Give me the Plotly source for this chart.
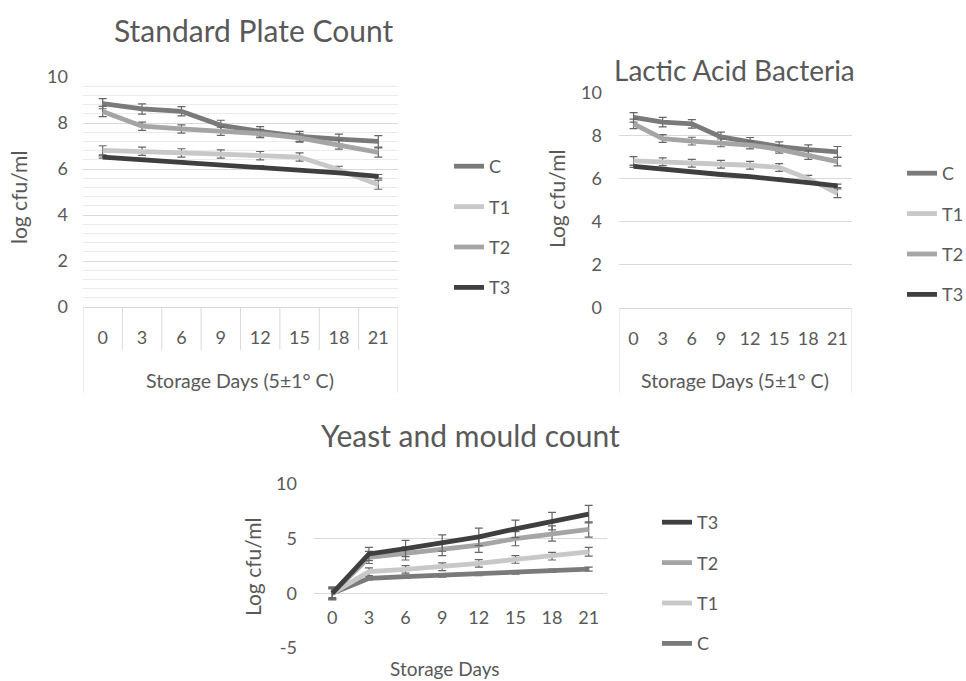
import plotly.graph_objects as go

# ---------------- data ----------------
days = ["0", "3", "6", "9", "12", "15", "18", "21"]
series_names = ["C", "T1", "T2", "T3"]

# Standard Plate Count (log cfu/ml)
spc_C = [8.84, 8.61, 8.51, 7.90, 7.64, 7.42, 7.30, 7.20]
spc_T1 = [6.81, 6.77, 6.70, 6.65, 6.58, 6.52, 5.97, 5.32]
spc_T2 = [8.50, 7.86, 7.74, 7.64, 7.54, 7.35, 7.06, 6.72]
spc_T3 = [6.52, 6.41, 6.29, 6.19, 6.09, 5.97, 5.83, 5.68]
spc_C_err = [0.22, 0.22, 0.20, 0.22, 0.20, 0.22, 0.22, 0.25]
spc_T1_err = [0.20, 0.18, 0.18, 0.18, 0.18, 0.18, 0.15, 0.20]
spc_T2_err = [0.22, 0.18, 0.18, 0.18, 0.18, 0.18, 0.20, 0.20]
spc_T3_err = [0.05, 0.05, 0.05, 0.05, 0.05, 0.05, 0.05, 0.08]

# Lactic Acid Bacteria (log cfu/ml)
lab_C = [8.85, 8.63, 8.55, 7.95, 7.72, 7.50, 7.36, 7.25]
lab_T1 = [6.83, 6.79, 6.72, 6.68, 6.63, 6.53, 6.01, 5.33]
lab_T2 = [8.55, 7.87, 7.75, 7.67, 7.57, 7.37, 7.10, 6.80]
lab_T3 = [6.58, 6.44, 6.33, 6.20, 6.10, 5.98, 5.82, 5.67]
lab_C_err = [0.22, 0.22, 0.20, 0.22, 0.20, 0.22, 0.22, 0.25]
lab_T1_err = [0.20, 0.18, 0.18, 0.18, 0.18, 0.18, 0.15, 0.20]
lab_T2_err = [0.22, 0.18, 0.18, 0.18, 0.18, 0.18, 0.20, 0.20]
lab_T3_err = [0.05, 0.05, 0.05, 0.05, 0.05, 0.05, 0.05, 0.08]

# Yeast and mould count (log cfu/ml)
ym_C = [0.00, 1.37, 1.52, 1.64, 1.76, 1.91, 2.07, 2.22]
ym_T1 = [0.00, 1.98, 2.19, 2.43, 2.74, 3.10, 3.40, 3.80]
ym_T2 = [0.00, 3.28, 3.65, 4.04, 4.40, 5.00, 5.47, 5.84]
ym_T3 = [0.00, 3.60, 4.10, 4.60, 5.17, 5.90, 6.60, 7.25]
ym_C_err = [0.60, 0.15, 0.15, 0.15, 0.15, 0.15, 0.15, 0.18]
ym_T1_err = [0.50, 0.35, 0.35, 0.35, 0.35, 0.35, 0.35, 0.40]
ym_T2_err = [0.50, 0.55, 0.60, 0.60, 0.65, 0.65, 0.70, 0.70]
ym_T3_err = [0.40, 0.60, 0.75, 0.75, 0.80, 0.80, 0.80, 0.80]

ym_yticks = [-5, 0, 5, 10]
ym_yticktext = ["-5", "0", "5", "10"]

# ---------------- style ----------------
W, H = 966, 681
FONT = "Lato"
TXT = "#595959"
GRID = "#d9d9d9"
MINOR = "#ebebeb"
ERR = "#666666"
colors = {"C": "#7a7a7a", "T1": "#c8c8c8", "T2": "#a5a5a5", "T3": "#3f3f3f"}
LW = 4.8

def px_x(p):
    return p / W

def px_y(p):
    return 1 - p / H

xidx = list(range(len(days)))

fig = go.Figure()

def add_series(vals, errs, name, xa, ya, legend, rank):
    fig.add_trace(go.Scatter(
        x=xidx, y=vals, name=name, mode="lines",
        line=dict(color=colors[name], width=LW),
        error_y=dict(type="data", array=errs, visible=True, color=ERR,
                     thickness=1.2, width=4),
        xaxis=xa, yaxis=ya, legend=legend, legendgroup=legend + name,
        legendrank=rank,
    ))

spc = {"C": (spc_C, spc_C_err), "T1": (spc_T1, spc_T1_err),
       "T2": (spc_T2, spc_T2_err), "T3": (spc_T3, spc_T3_err)}
lab = {"C": (lab_C, lab_C_err), "T1": (lab_T1, lab_T1_err),
       "T2": (lab_T2, lab_T2_err), "T3": (lab_T3, lab_T3_err)}
ym = {"C": (ym_C, ym_C_err), "T1": (ym_T1, ym_T1_err),
      "T2": (ym_T2, ym_T2_err), "T3": (ym_T3, ym_T3_err)}

nser = len(series_names)
for i, n in enumerate(series_names):
    add_series(*spc[n], n, "x", "y", "legend", 100 + i)
for i, n in enumerate(series_names):
    add_series(*lab[n], n, "x2", "y2", "legend2", 100 + i)
for i, n in enumerate(series_names):
    add_series(*ym[n], n, "x3", "y3", "legend3", 100 + nser - i)

# domains (pixel based)
d1x = [px_x(83), px_x(398)]
d1y = [px_y(307), px_y(77)]
d2x = [px_x(619), px_x(852)]
d2y = [px_y(308), px_y(92.7)]
d3x = [px_x(314), px_x(607)]
d3y = [px_y(648), px_y(484)]
y3range = [-5, 10]
zero_pos = d3y[0] + (d3y[1] - d3y[0]) * (0 - y3range[0]) / (y3range[1] - y3range[0])

tickfont = dict(family=FONT, size=18, color=TXT)
xr = [-0.5, len(days) - 0.5]

common_x = dict(range=xr, tickmode="array", tickvals=xidx, ticktext=days,
                showgrid=False, zeroline=False, ticks="", tickfont=tickfont,
                fixedrange=True, automargin=False)

fig.update_layout(
    width=W, height=H, margin=dict(l=0, r=0, t=0, b=0, autoexpand=False),
    paper_bgcolor="white", plot_bgcolor="white",
    font=dict(family=FONT, color=TXT),
    xaxis=dict(domain=d1x, anchor="y", showline=True, linecolor=GRID,
               linewidth=1, ticklabelstandoff=14, **common_x),
    yaxis=dict(domain=d1y, anchor="x", range=[0, 10], dtick=2,
               showgrid=True, gridcolor=GRID, gridwidth=1, zeroline=False,
               ticks="", tickfont=tickfont, ticklabelstandoff=14, automargin=False,
               minor=dict(dtick=0.4, showgrid=True, gridcolor=MINOR, gridwidth=1)),
    xaxis2=dict(domain=d2x, anchor="y2", showline=True, linecolor=GRID,
                linewidth=1, ticklabelstandoff=14, **common_x),
    yaxis2=dict(domain=d2y, anchor="x2", range=[0, 10], dtick=2,
                showgrid=True, gridcolor=GRID, gridwidth=1, zeroline=False,
                ticks="", tickfont=tickfont, ticklabelstandoff=16, automargin=False),
    xaxis3=dict(domain=d3x, anchor="free", position=zero_pos, showline=False,
                ticklabelstandoff=12, **common_x),
    yaxis3=dict(domain=d3y, anchor="x3", range=y3range, tickmode="array",
                tickvals=ym_yticks, ticktext=ym_yticktext,
                showgrid=True, gridcolor=GRID, gridwidth=1, zeroline=False,
                ticks="", tickfont=tickfont, ticklabelstandoff=16, automargin=False),
    showlegend=True,
)

legfont = dict(family=FONT, size=18, color=TXT)
GAP = 14
fig.update_layout(
    legend=dict(x=px_x(449), y=px_y(148), xanchor="left", yanchor="top",
                font=legfont, bgcolor="rgba(0,0,0,0)", tracegroupgap=GAP,
                traceorder="grouped"),
    legend2=dict(x=px_x(902), y=px_y(155), xanchor="left", yanchor="top",
                 font=legfont, bgcolor="rgba(0,0,0,0)", tracegroupgap=GAP,
                 traceorder="grouped"),
    legend3=dict(x=px_x(657), y=px_y(504), xanchor="left", yanchor="top",
                 font=legfont, bgcolor="rgba(0,0,0,0)", tracegroupgap=GAP,
                 traceorder="grouped"),
)

# category axis boxes (Excel style) for top charts
shapes = []
box_bottom = px_y(393)
sep_bottom = px_y(350)
for b in [i - 0.5 for i in range(len(days) + 1)]:
    outer = b in (xr[0], xr[1])
    shapes.append(dict(type="line", xref="x", yref="paper", x0=b, x1=b,
                       y0=d1y[0], y1=box_bottom if outer else sep_bottom,
                       line=dict(color=GRID, width=1)))
for b in xr:
    shapes.append(dict(type="line", xref="x2", yref="paper", x0=b, x1=b,
                       y0=d2y[0], y1=box_bottom,
                       line=dict(color=GRID, width=1)))
fig.update_layout(shapes=shapes)

# titles
def ann(text, x, y, size, angle=0):
    fig.add_annotation(text=text, x=px_x(x), y=px_y(y), xref="paper", yref="paper",
                       showarrow=False, textangle=angle, xanchor="center",
                       yanchor="middle", font=dict(family=FONT, size=size, color=TXT))

ann("Standard Plate Count", 253, 30, 30)
ann("Lactic Acid Bacteria", 734, 70, 28)
ann("Yeast and mould count", 470, 435, 30)
ann("log cfu/ml", 18, 198, 21, -90)
ann("Log cfu/ml", 556, 199, 21, -90)
ann("Log cfu/ml", 252, 567, 21, -90)
ann("Storage Days (5±1° C)", 240, 380, 19.5)
ann("Storage Days (5±1° C)", 735, 380, 19.5)
ann("Storage Days", 445, 668, 19)

fig.write_html("out.html")
